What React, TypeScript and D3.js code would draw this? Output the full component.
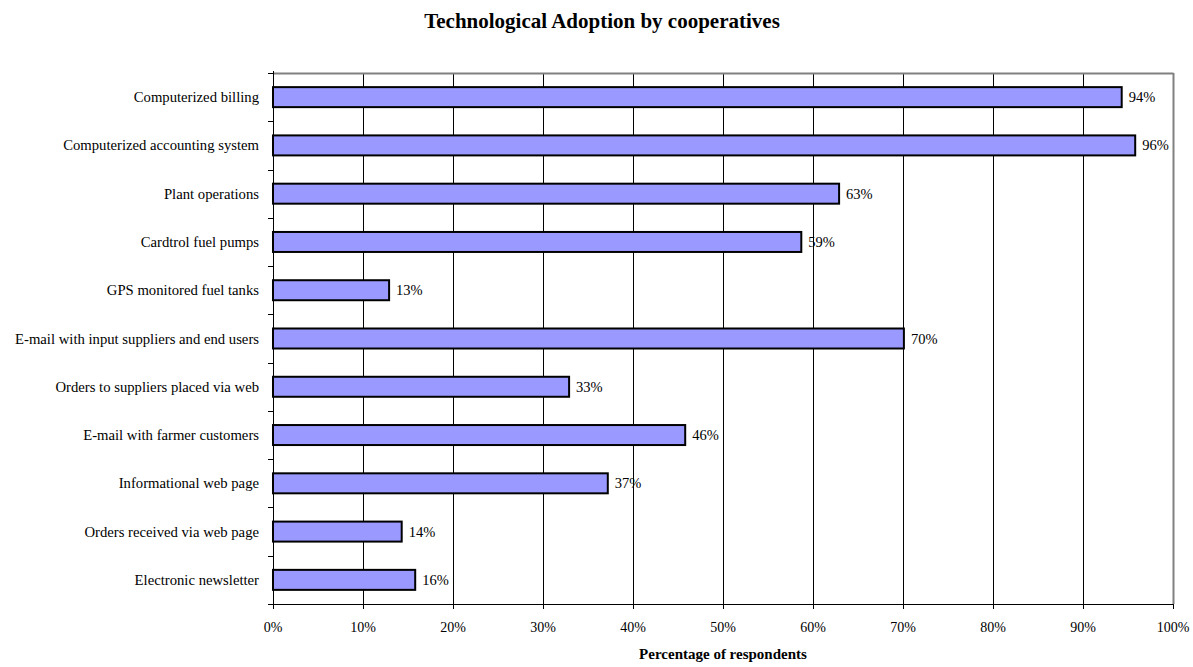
import React from "react";
import * as d3 from "d3";

const categories = [
  "Computerized billing",
  "Computerized accounting system",
  "Plant operations",
  "Cardtrol fuel pumps",
  "GPS monitored fuel tanks",
  "E-mail with input suppliers and end users",
  "Orders to suppliers placed via web",
  "E-mail with farmer customers",
  "Informational web page",
  "Orders received via web page",
  "Electronic newsletter",
];
const values = [94.3, 95.8, 62.9, 58.7, 12.9, 70.1, 32.9, 45.8, 37.2, 14.3, 15.8];
const valueLabels = ["94%", "96%", "63%", "59%", "13%", "70%", "33%", "46%", "37%", "14%", "16%"];
const xTicks = [0, 10, 20, 30, 40, 50, 60, 70, 80, 90, 100];

const W = 1193;
const H = 667;
const left = 273;
const right = 1173;
const top = 73;
const bottom = 604;
const font = "'Liberation Serif', 'Times New Roman', serif";

export default function App() {
  const x = d3.scaleLinear().domain([0, 100]).range([left, right]);
  const y = d3.scaleBand<string>().domain(categories).range([top, bottom]).paddingInner(0).paddingOuter(0);
  const bw = y.bandwidth();
  const barH = 20;
  const boundaries = d3.range(categories.length + 1).map((i) => top + i * bw);

  return (
    <svg width={W} height={H} style={{ position: "absolute", left: 0, top: 0, background: "#fff" }}>
      <text x={602} y={28} textAnchor="middle" fontFamily={font} fontWeight="bold" fontSize={21}>
        Technological Adoption by cooperatives
      </text>
      {xTicks.slice(1, -1).map((t) => (
        <line key={t} x1={Math.round(x(t)) + 0.5} x2={Math.round(x(t)) + 0.5} y1={top} y2={bottom} stroke="#000" strokeWidth={1} />
      ))}
      <line x1={left} x2={right + 0.5} y1={top + 0.5} y2={top + 0.5} stroke="#808080" strokeWidth={2} />
      <line x1={right + 0.5} x2={right + 0.5} y1={top} y2={bottom} stroke="#808080" strokeWidth={2} />
      {categories.map((c, i) => {
        const cy = (y(c) as number) + bw / 2;
        return (
          <g key={c}>
            <rect x={x(0)} y={cy - barH / 2} width={x(values[i]) - x(0)} height={barH} fill="#9999FF" stroke="#000" strokeWidth={2} />
            <text x={x(values[i]) + 7} y={cy} dominantBaseline="central" fontFamily={font} fontSize={14.5}>
              {valueLabels[i]}
            </text>
            <text x={259} y={cy} dominantBaseline="central" textAnchor="end" fontFamily={font} fontSize={14.7}>
              {c}
            </text>
          </g>
        );
      })}
      <line x1={left + 0.5} x2={left + 0.5} y1={top - 2} y2={bottom + 5} stroke="#000" strokeWidth={1} />
      {boundaries.map((b, i) => (
        <line key={i} x1={left - 5} x2={left} y1={Math.round(b) + 0.5} y2={Math.round(b) + 0.5} stroke="#000" strokeWidth={1} />
      ))}
      <line x1={left - 5} x2={right + 1} y1={bottom + 0.5} y2={bottom + 0.5} stroke="#000" strokeWidth={1} />
      {xTicks.map((t) => (
        <g key={t}>
          <line x1={Math.round(x(t)) + 0.5} x2={Math.round(x(t)) + 0.5} y1={bottom} y2={bottom + 5} stroke="#000" strokeWidth={1} />
          <text x={x(t)} y={632} textAnchor="middle" fontFamily={font} fontSize={14}>
            {t}%
          </text>
        </g>
      ))}
      <text x={723} y={659} textAnchor="middle" fontFamily={font} fontWeight="bold" fontSize={15}>
        Percentage of respondents
      </text>
    </svg>
  );
}
